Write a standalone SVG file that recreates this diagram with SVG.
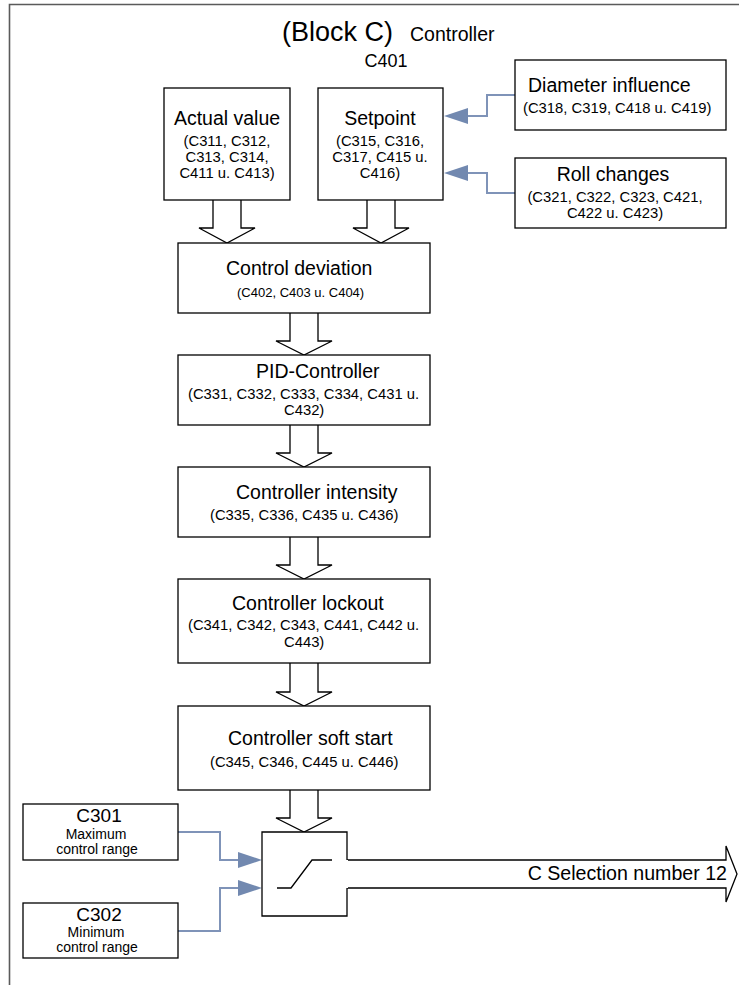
<svg xmlns="http://www.w3.org/2000/svg" width="739" height="985" viewBox="0 0 739 985">
  <style>
    text { font-family: "Liberation Sans", Arial, sans-serif; fill: #000; }
    .box { fill: #fff; stroke: #000; stroke-width: 1.3; }
    .blk { fill: #fff; stroke: #000; stroke-width: 1.3; stroke-linejoin: miter; }
    .frame { fill: none; stroke: #5a5a5a; stroke-width: 1.6; }
    .link { fill: none; stroke: #7f93b8; stroke-width: 2; }
    .head { fill: #7289b0; stroke: none; }
    .sw { fill: none; stroke: #000; stroke-width: 1.3; }
    .t { font-size: 19.5px; }
    .s { font-size: 14.8px; }
    .c { text-anchor: middle; }
    .id { font-size: 19px; }
    .lb { font-size: 14px; }
  </style>

  <!-- outer frame (left and top edges) -->
  <polyline class="frame" points="9.5,985 9.5,4.5 739,4.5"/>

  <!-- heading -->
  <g id="heading">
    <text x="282" y="41" font-size="27">(Block C)</text>
    <text x="410" y="41" font-size="19.5">Controller</text>
    <text x="386" y="67" font-size="18" class="c">C401</text>
  </g>

  <!-- block arrows between stages -->
  <g id="flow-arrows">
    <polyline class="blk" points="213,200 213,228 199,228 227,243 255,228 241,228 241,200"/>
    <polyline class="blk" points="367,200 367,228 353,228 381,243 409,228 395,228 395,200"/>
    <polyline class="blk" points="290,313 290,341 276,341 304,355 332,341 318,341 318,313"/>
    <polyline class="blk" points="290,425 290,453 276,453 304,467 332,453 318,453 318,425"/>
    <polyline class="blk" points="290,537 290,565 276,565 304,579 332,565 318,565 318,537"/>
    <polyline class="blk" points="290,663 290,692 276,692 304,706 332,692 318,692 318,663"/>
    <polyline class="blk" points="290,790 290,818 276,818 304,832 332,818 318,818 318,790"/>
  </g>

  <!-- blue signal connectors -->
  <g id="connectors">
    <path class="link" d="M515 95 H487 V116 H466"/>
    <polygon class="head" points="444,116 468,108 468,124"/>
    <path class="link" d="M515 193 H487 V173 H466"/>
    <polygon class="head" points="444,173 468,165 468,181"/>
    <path class="link" d="M178 832 H220 V860 H240"/>
    <polygon class="head" points="262,860 238,852 238,868"/>
    <path class="link" d="M178 931 H220 V888 H240"/>
    <polygon class="head" points="262,888 238,880 238,896"/>
  </g>

  <g id="actual-value">
    <rect class="box" x="164" y="88" width="126" height="112"/>
    <text class="t c" x="227" y="125">Actual value</text>
    <text class="s c" x="227" y="146">(C311, C312,</text>
    <text class="s c" x="227" y="162">C313, C314,</text>
    <text class="s c" x="227" y="178">C411 u. C413)</text>
  </g>

  <g id="setpoint">
    <rect class="box" x="318" y="88" width="125" height="112"/>
    <text class="t c" x="380" y="125">Setpoint</text>
    <text class="s c" x="380" y="146">(C315, C316,</text>
    <text class="s c" x="380" y="162">C317, C415 u.</text>
    <text class="s c" x="380" y="178">C416)</text>
  </g>

  <g id="diameter-influence">
    <rect class="box" x="515" y="60" width="211" height="70"/>
    <text class="t" x="528" y="92">Diameter influence</text>
    <text class="s" x="523" y="113">(C318, C319, C418 u. C419)</text>
  </g>

  <g id="roll-changes">
    <rect class="box" x="515" y="158" width="211" height="70"/>
    <text class="t c" x="613" y="181">Roll changes</text>
    <text class="s c" x="615" y="202">(C321, C322, C323, C421,</text>
    <text class="s c" x="615" y="218">C422 u. C423)</text>
  </g>

  <g id="control-deviation">
    <rect class="box" x="178" y="243" width="252" height="70"/>
    <text class="t" x="226" y="275">Control deviation</text>
    <text x="237" y="297" font-size="13">(C402, C403 u. C404)</text>
  </g>

  <g id="pid-controller">
    <rect class="box" x="178" y="355" width="252" height="70"/>
    <text class="t" x="256" y="378">PID-Controller</text>
    <text class="s" x="188" y="399">(C331, C332, C333, C334, C431 u.</text>
    <text class="s" x="284" y="415">C432)</text>
  </g>

  <g id="controller-intensity">
    <rect class="box" x="178" y="467" width="252" height="70"/>
    <text class="t" x="236" y="499">Controller intensity</text>
    <text class="s" x="210" y="520">(C335, C336, C435 u. C436)</text>
  </g>

  <g id="controller-lockout">
    <rect class="box" x="178" y="579" width="252" height="84"/>
    <text class="t" x="232" y="610">Controller lockout</text>
    <text class="s" x="188" y="630">(C341, C342, C343, C441, C442 u.</text>
    <text class="s" x="284" y="647">C443)</text>
  </g>

  <g id="controller-soft-start">
    <rect class="box" x="178" y="706" width="252" height="84"/>
    <text class="t" x="228" y="745">Controller soft start</text>
    <text class="s" x="210" y="767">(C345, C346, C445 u. C446)</text>
  </g>

  <g id="c301">
    <rect class="box" x="23" y="804" width="155" height="56"/>
    <text class="id c" x="99" y="822">C301</text>
    <text class="lb c" x="96" y="839">Maximum</text>
    <text class="lb c" x="97" y="854">control range</text>
  </g>

  <g id="c302">
    <rect class="box" x="23" y="903" width="155" height="55"/>
    <text class="id c" x="99" y="921">C302</text>
    <text class="lb c" x="96" y="937">Minimum</text>
    <text class="lb c" x="97" y="952">control range</text>
  </g>

  <!-- limiting switch with the output arrow -->
  <g id="switch-output">
    <path class="blk" d="M347 860 V832 H262 V916 H347 V888 H726 V902 L737 874 L726 846 V860 Z"/>
    <line x1="347" y1="860" x2="347" y2="888" stroke="#fff" stroke-width="2"/>
    <polyline class="sw" points="277,888 291,888 312,860 332,860"/>
    <text x="727" y="880" font-size="19.6" text-anchor="end">C Selection number 12</text>
  </g>
</svg>
